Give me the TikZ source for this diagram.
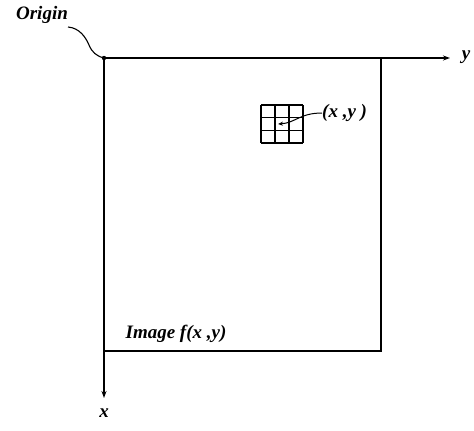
\documentclass[tikz,border=0pt]{standalone}
\usepackage{fontspec}
\setmainfont{Liberation Serif}
\usetikzlibrary{arrows.meta}
\begin{document}
\begin{tikzpicture}[x=1pt,y=-1pt,
  axis/.style={line width=1.3pt,-{Stealth[length=7pt,width=5pt]}},
  frame/.style={line width=1.3pt},
  lbl/.style={font=\fontsize{19}{22}\selectfont\bfseries\itshape, inner sep=0pt},
  gridline/.style={line width=1.6pt}]
\useasboundingbox (0,0) rectangle (474,431);
\coordinate (O) at (104,58);
\coordinate (yend) at (450,58);
\coordinate (xend) at (104,398);
\coordinate (TR) at (381,58);
\coordinate (BR) at (381,351);
\coordinate (BL) at (104,351);
\draw[frame] (TR) -- (BR) -- (BL);
\draw[axis] (O) -- (yend);
\draw[axis] (O) -- (xend);
\node[lbl] (ylab) at (466,57) {y};
\node[lbl] (xlab) at (104,413) {x};
\node[lbl] (origin) at (42,15) {Origin};
\fill (O) circle (2.2pt);
\draw[line width=1.1pt] (68,27) .. controls (80,28) and (86,38) .. (89,45) .. controls (92,52) and (96,56) .. (O);
\node[lbl] (image) at (176,334) {Image f(x ,y)};
% small grid
\foreach \i in {0,1,2,3} {
  \draw[gridline] ({261+14*\i},105) -- ({261+14*\i},143);
  \draw[gridline] (261,{105+12.67*\i}) -- (303,{105+12.67*\i});
}
\coordinate (c) at (278,124);
\node[lbl, anchor=west] (xy) at (322,113) {(x ,y )};
\draw[line width=1pt,-{Stealth[length=5pt,width=4pt]}] (xy.west) .. controls (300,113) and (295,123) .. (c);
\end{tikzpicture}
\end{document}
